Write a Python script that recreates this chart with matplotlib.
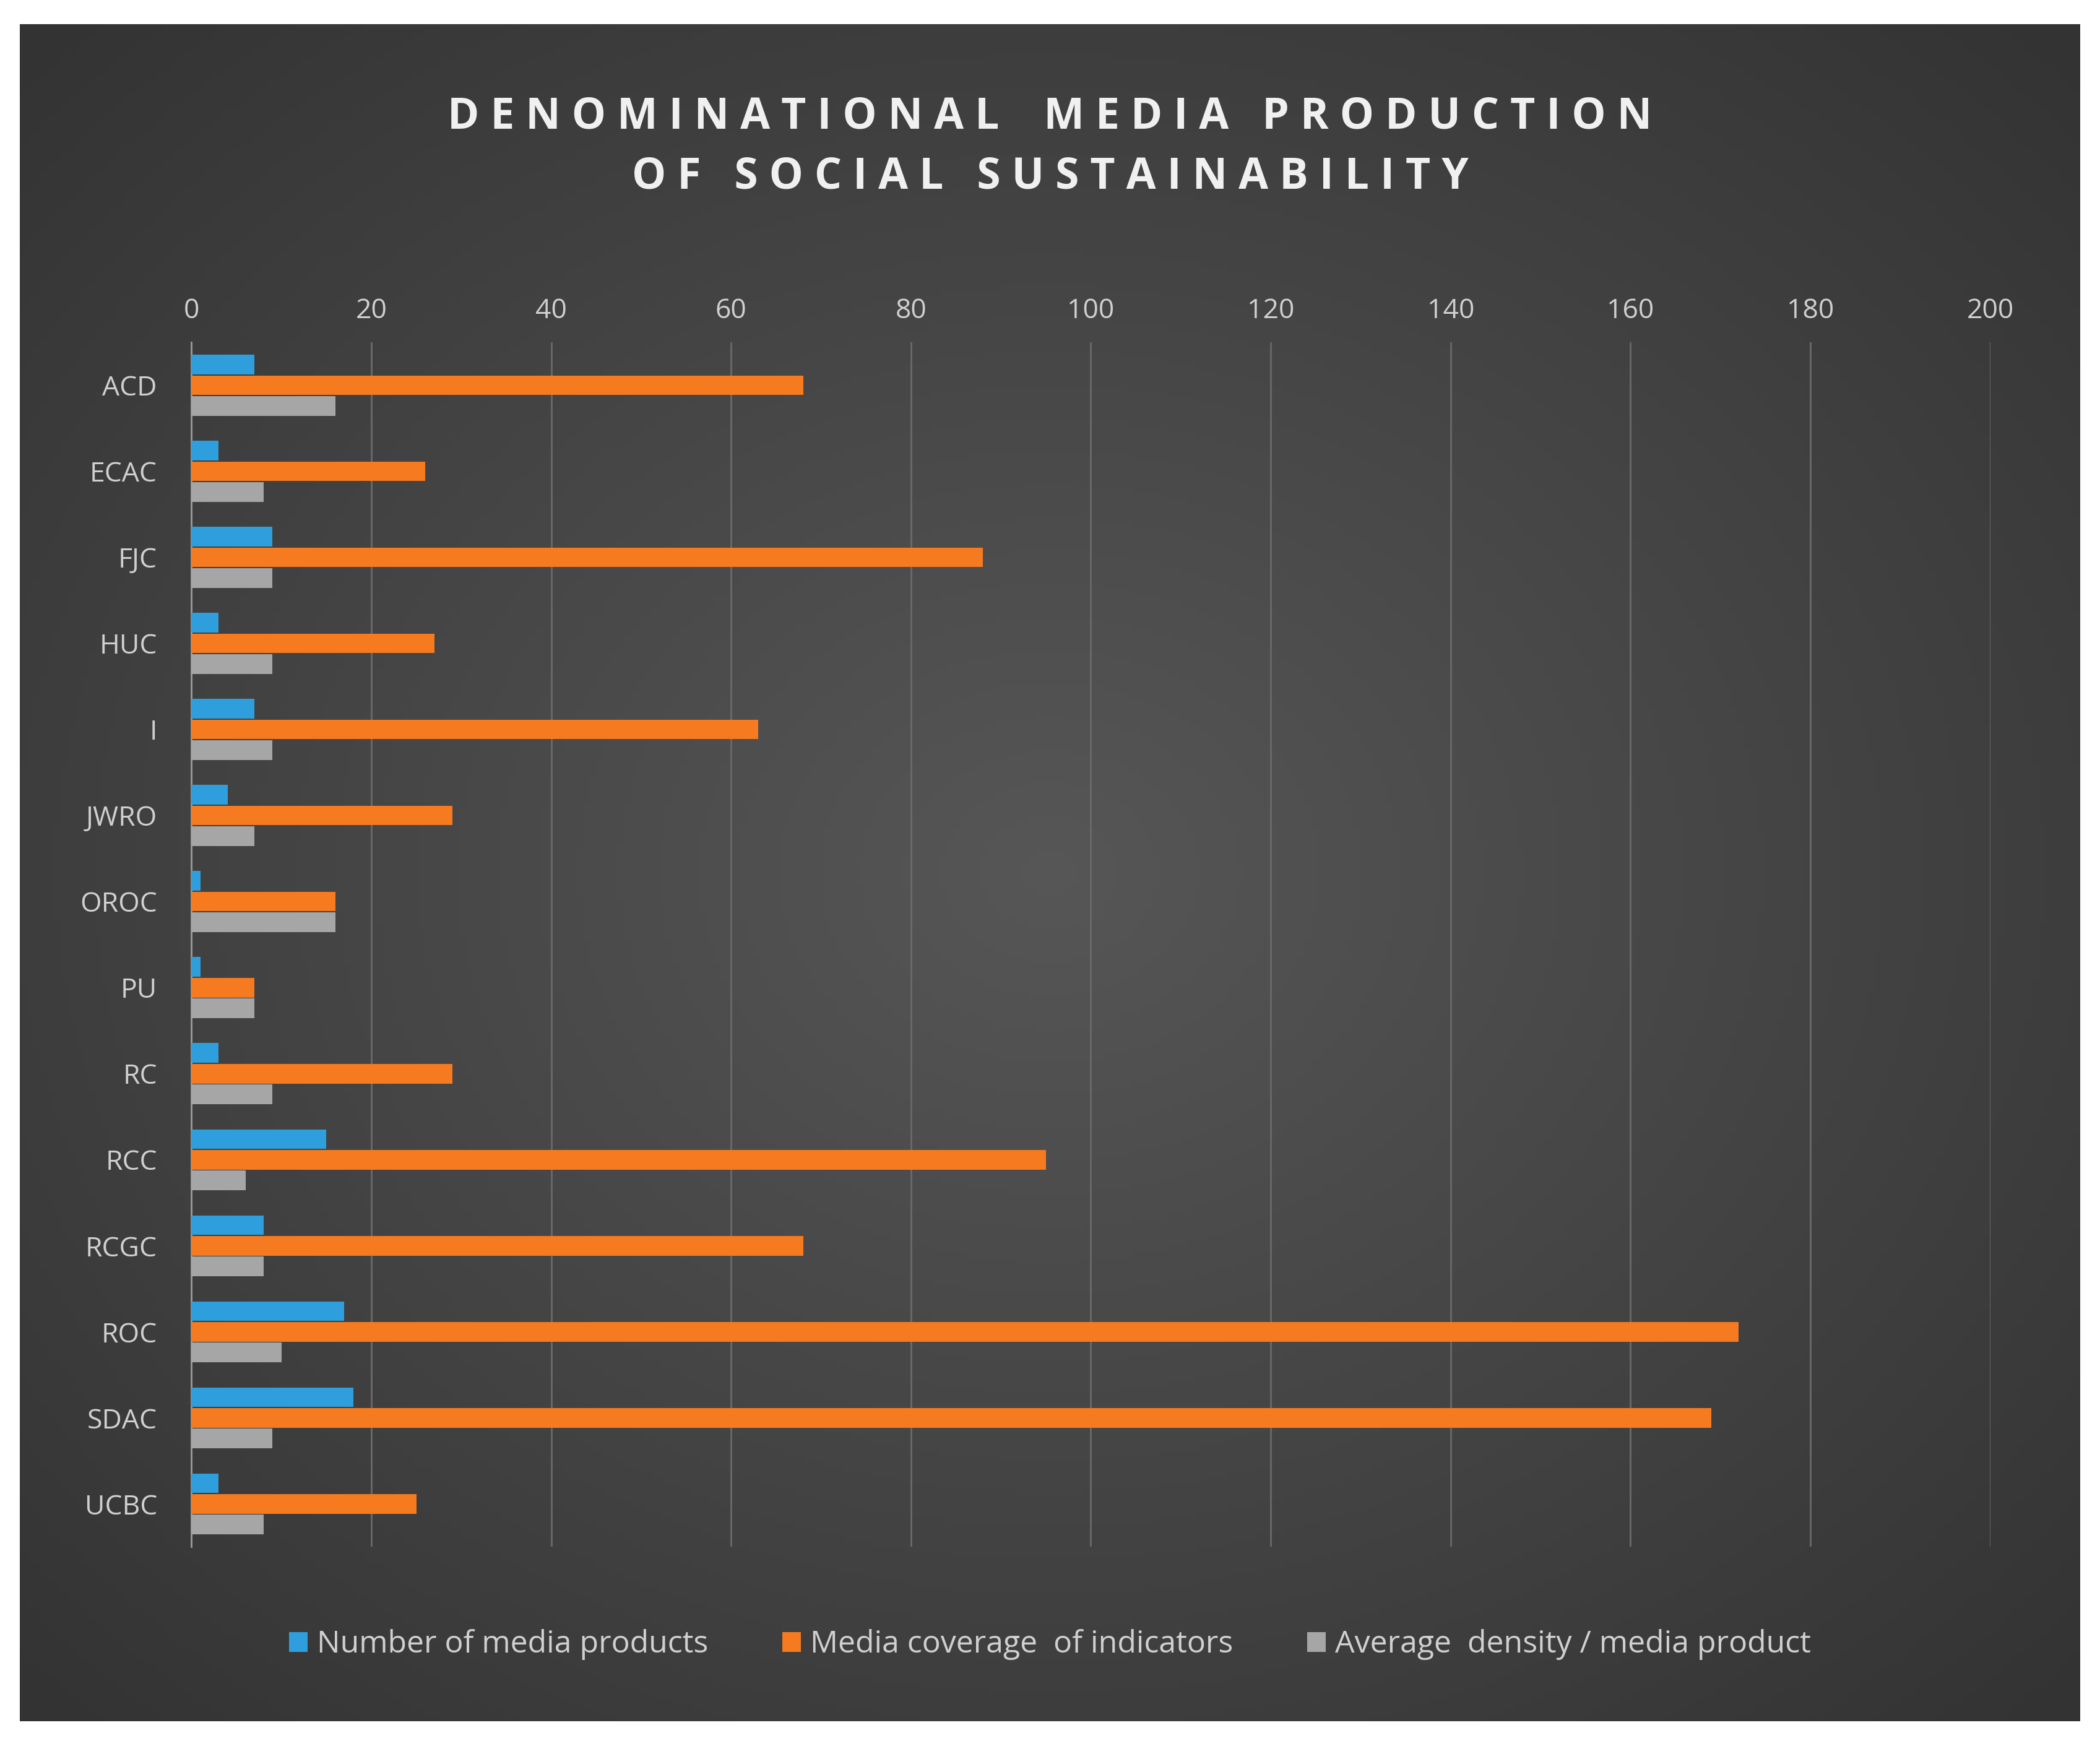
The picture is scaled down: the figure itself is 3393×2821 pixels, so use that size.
import matplotlib
matplotlib.use("Agg")
import matplotlib.pyplot as plt
import numpy as np

categories = ["ACD","ECAC","FJC","HUC","I","JWRO","OROC","PU","RC","RCC","RCGC","ROC","SDAC","UCBC"]
num_products = [7,3,9,3,7,4,1,1,3,15,8,17,18,3]
coverage = [68,26,88,27,63,29,16,7,29,95,68,172,169,25]
density = [16,8,9,9,9,7,16,7,9,6,8,10,9,8]
series_names = ["Number of media products","Media coverage  of indicators","Average  density / media product"]
colors = ["#2e9fdc","#f57a20","#a6a6a6"]

plt.rcParams['font.family'] = ['Open Sans', 'DejaVu Sans']
fig = plt.figure(figsize=(33.93,28.21), dpi=100)
fig.patch.set_facecolor("white")
bg = fig.add_axes([15/1568, 1-1285/1303.6, (1553-15)/1568, (1285-18)/1303.6])
yy, xx = np.mgrid[-1:1:300j, -1:1:300j]
r = np.sqrt(xx**2+yy**2)
g = 0.34 - 0.10*np.clip(r,0,1.4)
bg.imshow(np.dstack([g,g,g]), aspect="auto", extent=[0,1,0,1])
bg.axis("off")

ax = fig.add_axes([143/1568, 0.114, (1486-143)/1568, 0.804-0.114])
ax.patch.set_alpha(0)
y = np.arange(len(categories))
h = 0.24
for vals, off, c, n in zip([num_products, coverage, density], [-h, 0, h], colors, series_names):
    ax.barh(y+off, vals, height=h*0.95, color=c, label=n, zorder=3)
ax.set_xlim(0,200)
ax.set_ylim(len(categories)-0.5, -0.5)
ax.set_yticks(y, categories)
ax.set_xticks(range(0,201,20))
ax.xaxis.tick_top()
ax.grid(axis="x", color="#6a6a6a", lw=2, zorder=0)
for s in ["top","right","bottom"]:
    ax.spines[s].set_visible(False)
ax.spines["left"].set_color("#9a9a9a"); ax.spines["left"].set_linewidth(2)
ax.tick_params(length=0, labelcolor="#d0d0d0", labelsize=32, pad=20)
ax.tick_params(axis="y", pad=40)

fig.text(0.5, 1-110/1303.6, "D E N O M I N A T I O N A L    M E D I A   P R O D U C T I O N\nO F   S O C I A L   S U S T A I N A B I L I T Y",
         ha="center", va="center", color="#f0f0f0", fontsize=50, fontweight="bold", linespacing=1.5)
leg = fig.legend(loc="center", bbox_to_anchor=(0.5, 1-1228/1303.6), ncol=3, frameon=False,
                 fontsize=36, labelcolor="#d0d0d0", handlelength=0.6, handleheight=0.6,
                 columnspacing=2.4, handletextpad=0.3)
fig.savefig("out.png", dpi=100, facecolor=fig.get_facecolor())
